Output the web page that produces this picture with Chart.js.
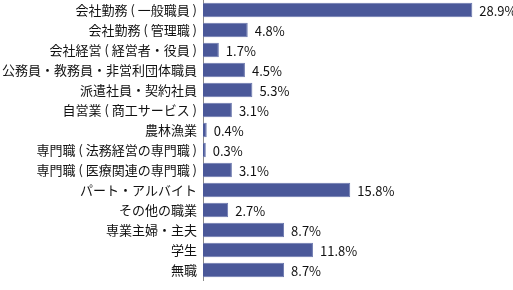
<!DOCTYPE html>
<html>
<head>
<meta charset="utf-8">
<script src="https://cdn.jsdelivr.net/npm/chart.js@4/dist/chart.umd.min.js"></script>
<style>
  html, body { margin: 0; padding: 0; background: #fff; }
</style>
</head>
<body>
<canvas id="jobChart" width="513" height="290"></canvas>
<script>
var labels = [
  '会社勤務 ( 一般職員 )',
  '会社勤務 ( 管理職 )',
  '会社経営 ( 経営者・役員 )',
  '公務員・教務員・非営利団体職員',
  '派遣社員・契約社員',
  '自営業 ( 商工サービス )',
  '農林漁業',
  '専門職 ( 法務経営の専門職 )',
  '専門職 ( 医療関連の専門職 )',
  'パート・アルバイト',
  'その他の職業',
  '専業主婦・主夫',
  '学生',
  '無職'
];
var values = [28.9, 4.8, 1.7, 4.5, 5.3, 3.1, 0.4, 0.3, 3.1, 15.8, 2.7, 8.7, 11.8, 8.7];

var font = '"Noto Sans CJK JP", "Noto Sans", sans-serif';

var valueLabels = {
  id: 'valueLabels',
  afterDatasetsDraw: function(chart) {
    var ctx = chart.ctx;
    var meta = chart.getDatasetMeta(0);
    ctx.save();
    ctx.font = '13px ' + font;
    ctx.fillStyle = '#111';
    ctx.textAlign = 'left';
    ctx.textBaseline = 'middle';
    meta.data.forEach(function(bar, i) {
      ctx.fillText(values[i].toFixed(1) + '%', bar.x + 7, bar.y + 1);
    });
    ctx.restore();
  }
};

new Chart(document.getElementById('jobChart').getContext('2d'), {
  type: 'bar',
  data: {
    labels: labels,
    datasets: [{
      data: values,
      backgroundColor: '#4a5899',
      borderColor: '#6c78ae',
      borderWidth: 1,
      barPercentage: 0.72,
      categoryPercentage: 1
    }]
  },
  options: {
    indexAxis: 'y',
    responsive: false,
    animation: false,
    layout: { padding: { top: 0, bottom: 10, left: 0, right: 9 } },
    plugins: { legend: { display: false }, tooltip: { enabled: false } },
    scales: {
      x: { display: false, min: 0, max: 32.3 },
      y: {
        afterFit: function(scale) {
          scale.width = 203;
          scale.paddingTop = 0;
          scale.paddingBottom = 0;
        },
        grid: { display: false, drawTicks: false },
        border: { display: true, color: '#8a8a8a', width: 1 },
        ticks: { color: '#111', padding: 6, font: { family: font, size: 13 } }
      }
    }
  },
  plugins: [valueLabels]
});
</script>
</body>
</html>
